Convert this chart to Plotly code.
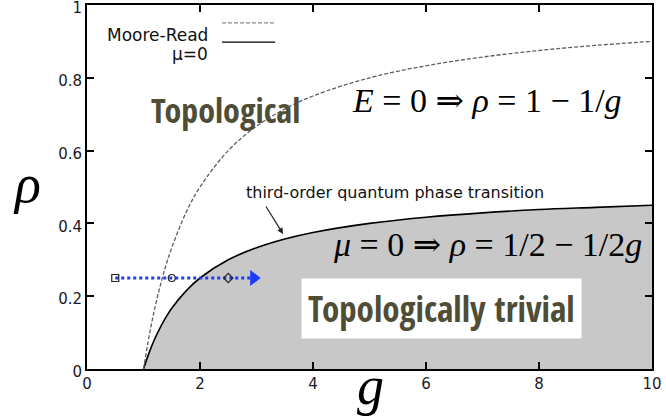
import plotly.graph_objects as go

# curve samples (g, rho)
g_vals = [1, 1.1, 1.2, 1.3, 1.4, 1.5, 1.75, 2, 2.5, 3, 3.5, 4, 5, 6, 7, 8, 9, 10]
moore_read = [0, 0.091, 0.167, 0.231, 0.286, 0.333, 0.429, 0.5, 0.6, 0.667,
              0.714, 0.75, 0.8, 0.833, 0.857, 0.875, 0.889, 0.9]
mu_zero = [0, 0.045, 0.083, 0.115, 0.143, 0.167, 0.214, 0.25, 0.3, 0.333,
           0.357, 0.375, 0.4, 0.417, 0.429, 0.438, 0.444, 0.45]

# blue path
path_g = [0.5, 2.95]
path_rho = [0.25, 0.25]
pt_g = [0.5, 1.5, 2.5]
pt_rho = [0.25, 0.25, 0.25]
pt_symbols = ["square-open", "circle-open", "diamond-open"]

x_ticks = [0, 2, 4, 6, 8, 10]
y_ticks = [0, 0.2, 0.4, 0.6, 0.8, 1]
y_labels = ["0", "0.2", "0.4", "0.6", "0.8", "1"]

SERIF = "Liberation Serif, DejaVu Serif, serif"
COND = "Open Sans Condensed, Roboto Condensed, sans-serif"
SANS = "DejaVu Sans, sans-serif"
OLIVE = "#4f4d36"

fig = go.Figure()

# shaded trivial region
fig.add_trace(go.Scatter(x=g_vals, y=mu_zero, mode="lines", fill="tozeroy",
                         fillcolor="#c8c8c8", line=dict(color="black", width=1.6, shape="spline"),
                         hoverinfo="skip"))
fig.add_trace(go.Scatter(x=g_vals, y=moore_read, mode="lines",
                         line=dict(color="#5e5e5e", width=1.3, dash="4px,2px", shape="spline")))

# dotted blue arrow
fig.add_trace(go.Scatter(x=path_g, y=path_rho, mode="lines",
                         line=dict(color="#1b3cff", width=3, dash="dot")))
fig.add_trace(go.Scatter(x=[path_g[-1]], y=[path_rho[-1]], mode="markers",
                         marker=dict(symbol="triangle-right", size=14, color="#1b3cff")))
fig.add_trace(go.Scatter(x=pt_g, y=pt_rho, mode="markers",
                         marker=dict(symbol=pt_symbols, size=7, color="#222",
                                     line=dict(width=1.2, color="#222"))))

ann = []
ann.append(dict(x=2.46, y=0.712, text="Topological", showarrow=False,
                font=dict(family=COND, size=34, color=OLIVE)))
ann.append(dict(x=6.27, y=0.165, text="Topologically trivial", showarrow=False,
                bgcolor="white", borderpad=6,
                font=dict(family=COND, size=35, color=OLIVE)))
ann.append(dict(x=7.08, y=0.739,
                text="<i>E</i> = 0 ⇒ <i>ρ</i> = 1 − 1/<i>g</i>", showarrow=False,
                font=dict(family=SERIF, size=34, color="black")))
ann.append(dict(x=7.08, y=0.341,
                text="<i>μ</i> = 0 ⇒ <i>ρ</i> = 1/2 − 1/2<i>g</i>", showarrow=False,
                font=dict(family=SERIF, size=34, color="black")))
ann.append(dict(x=5.45, y=0.484, text="third-order quantum phase transition",
                showarrow=False, font=dict(family=SANS, size=16, color="#111")))
ann.append(dict(x=3.47, y=0.371, ax=-18, ay=-29, text="", showarrow=True,
                arrowhead=2, arrowsize=1, arrowwidth=1.2, arrowcolor="#222"))
# axis titles
ann.append(dict(xref="paper", yref="paper", x=-0.134, y=0.508, text="<i>ρ</i>",
                showarrow=False, font=dict(family=SERIF, size=54, color="black")))
ann.append(dict(xref="paper", yref="paper", x=0.501, y=-0.135, text="<i>g</i>",
                showarrow=False, font=dict(family=SERIF, size=54, color="black")))
# legend
ann.append(dict(xref="paper", yref="paper", x=0.218, y=0.951, xanchor="right",
                text="Moore-Read", showarrow=False, font=dict(family=SANS, size=17, color="#111")))
ann.append(dict(xref="paper", yref="paper", x=0.218, y=0.898, xanchor="right",
                text="μ=0", showarrow=False, font=dict(family=SANS, size=17, color="#111")))

shapes = [
    dict(type="line", xref="paper", yref="paper", x0=0.239, x1=0.333, y0=0.951, y1=0.951,
         line=dict(color="#8a8a8a", width=1.3, dash="4px,2px")),
    dict(type="line", xref="paper", yref="paper", x0=0.239, x1=0.333, y0=0.898, y1=0.898,
         line=dict(color="black", width=1.3)),
]

axis_common = dict(showline=True, linecolor="black", linewidth=2, mirror="ticks",
                   ticks="inside", ticklen=7, tickwidth=2, tickcolor="black",
                   showgrid=False, zeroline=False, automargin=False,
                   ticklabeloverflow="allow",
                   tickfont=dict(family=SANS, size=15, color="#1a1a2a"))

fig.update_layout(
    width=666, height=420,
    margin=dict(l=87, r=14, t=5, b=51, autoexpand=False),
    paper_bgcolor="white", plot_bgcolor="white",
    showlegend=False,
    annotations=ann, shapes=shapes,
    xaxis=dict(range=[0, 10], tickvals=x_ticks, ticktext=[str(v) for v in x_ticks], **axis_common),
    yaxis=dict(range=[0, 1], tickvals=y_ticks, ticktext=y_labels, ticklabelshift=3,
               **axis_common),
)

# drop the default page margin so the figure sits at the window corner
fig.write_html("out.html", config={"displayModeBar": False},
               post_script="document.body.style.margin='0';")
